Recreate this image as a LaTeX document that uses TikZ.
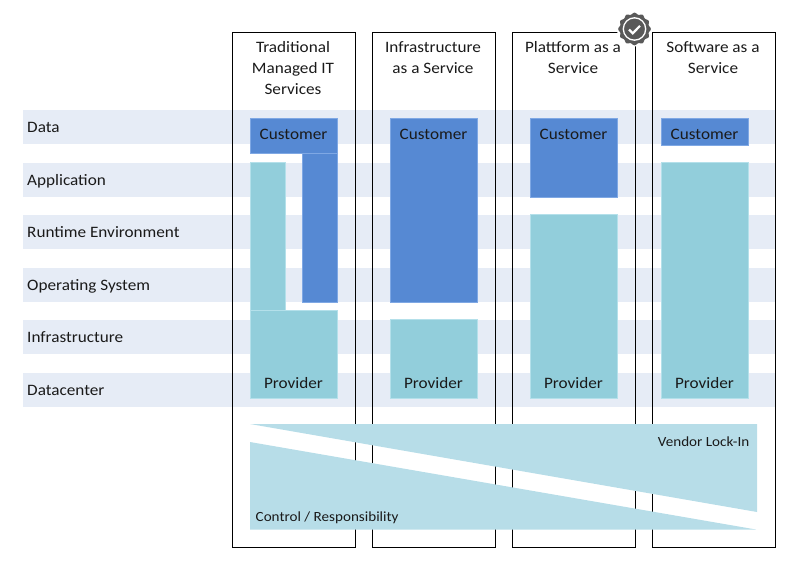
\documentclass[tikz,border=0pt]{standalone}
\usepackage{fontspec}
\setmainfont[FakeStretch=1.08]{Carlito}
\definecolor{band}{HTML}{E6ECF6}
\definecolor{cust}{HTML}{5689D3}
\definecolor{custedge}{HTML}{7FA8E4}
\definecolor{prov}{HTML}{92CEDB}
\definecolor{provedge}{HTML}{B4E0EA}
\definecolor{wedge}{HTML}{B7DDE8}
\definecolor{badge}{HTML}{595959}
\definecolor{ink}{HTML}{1A1A1A}
\newcommand{\pbox}[6]{\node[#1,minimum width=#4-#2,minimum height=#5-#3,anchor=north west] (#6) at (#2,#3) {};}
\tikzset{
  x=1pt,y=-1pt,
  bandbox/.style={fill=band,draw=none,inner sep=0,outer sep=0,rectangle},
  colbox/.style={draw=black,line width=1pt,inner sep=0,outer sep=0,rectangle},
  custbox/.style={fill=cust,draw=custedge,line width=.6pt,inner sep=0,outer sep=0,rectangle},
  provbox/.style={fill=prov,draw=provedge,line width=.6pt,inner sep=0,outer sep=0,rectangle},
  rowlabel/.style={anchor=base west,font=\fontsize{15.9}{18}\selectfont,text=ink,inner sep=0},
  head/.style={anchor=north,align=center,font=\fontsize{15.9}{20.8}\selectfont,text=ink,inner sep=0},
  inlabel/.style={anchor=base,font=\fontsize{15.9}{18}\selectfont,text=ink,inner sep=0},
  wedgelabel/.style={font=\fontsize{14}{16}\selectfont,text=ink,inner sep=0},
  wedgeshape/.style={fill=wedge,draw=none},
}
\begin{document}
\begin{tikzpicture}
\useasboundingbox (0,0) rectangle (792,563);
% rows
\pbox{bandbox}{23}{110}{775}{144}{b1}
\pbox{bandbox}{23}{163}{775}{197}{b2}
\pbox{bandbox}{23}{215}{775}{249}{b3}
\pbox{bandbox}{23}{268}{775}{302}{b4}
\pbox{bandbox}{23}{320}{775}{354}{b5}
\pbox{bandbox}{23}{373}{775}{407}{b6}
\node[rowlabel] (l1) at (27,132) {Data};
\node[rowlabel] (l2) at (27,185) {Application};
\node[rowlabel] (l3) at (27,237) {Runtime Environment};
\node[rowlabel] (l4) at (27,290) {Operating System};
\node[rowlabel] (l5) at (27,342) {Infrastructure};
\node[rowlabel] (l6) at (27,395) {Datacenter};
% columns
\pbox{colbox}{232.5}{32.5}{355.5}{547.5}{c1}
\pbox{colbox}{372.5}{32.5}{495.5}{547.5}{c2}
\pbox{colbox}{512.5}{32.5}{635.5}{547.5}{c3}
\pbox{colbox}{652.5}{32.5}{775.5}{547.5}{c4}
\node[head] (h1) at (293,41.4) {Traditional\\Managed IT\\Services};
\node[head] (h2) at (433,41.4) {Infrastructure\\as a Service};
\node[head] (h3) at (573,41.4) {Plattform as a\\Service};
\node[head] (h4) at (713,41.4) {Software as a\\Service};
% column 1
\pbox{custbox}{302.5}{153}{337.5}{302}{k1b}
\pbox{custbox}{250.5}{118.5}{337.5}{153}{k1}
\pbox{provbox}{250.5}{162.5}{285.5}{310.5}{p1b}
\pbox{provbox}{250.5}{310.5}{337.5}{398.5}{p1}
% column 2
\pbox{custbox}{390.5}{118.5}{477.5}{302}{k2}
\pbox{provbox}{390.5}{319.5}{477.5}{398.5}{p2}
% column 3
\pbox{custbox}{530.5}{118.5}{617.5}{197}{k3}
\pbox{provbox}{530.5}{214.5}{617.5}{398.5}{p3}
% column 4
\pbox{custbox}{661.5}{118.5}{748.5}{145}{k4}
\pbox{provbox}{661.5}{162.5}{748.5}{398.5}{p4}
\node[inlabel] at (293.5,139) {Customer};
\node[inlabel] at (433.5,139) {Customer};
\node[inlabel] at (573.5,139) {Customer};
\node[inlabel] at (704.5,139) {Customer};
\node[inlabel] at (293.5,388) {Provider};
\node[inlabel] at (433.5,388) {Provider};
\node[inlabel] at (573.5,388) {Provider};
\node[inlabel] at (704.5,388) {Provider};
% wedges
\fill[wedgeshape] (250,424) -- (757,424) -- (757,512) -- cycle;
\fill[wedgeshape] (250,442) -- (756,529.5) -- (250,529.5) -- cycle;
\node[wedgelabel,anchor=base east] (vl) at (749.5,446) {Vendor Lock-In};
\node[wedgelabel,anchor=base west] (cr) at (255.5,521) {Control / Responsibility};
% badge
\fill[white] (634.5,29) circle (17.5);
\fill[badge] plot[domain=0:360,samples=145,smooth] ({634.5+(15.5+0.8*cos(12*\x))*cos(\x)},{29+(15.5+0.8*cos(12*\x))*sin(\x)}) -- cycle;
\draw[white,line width=1.3pt] (634.5,29) circle (11.2);
\draw[white,line width=2.2pt] (629,29.5) -- (632.8,33.3) -- (640,25.8);
\end{tikzpicture}
\end{document}
